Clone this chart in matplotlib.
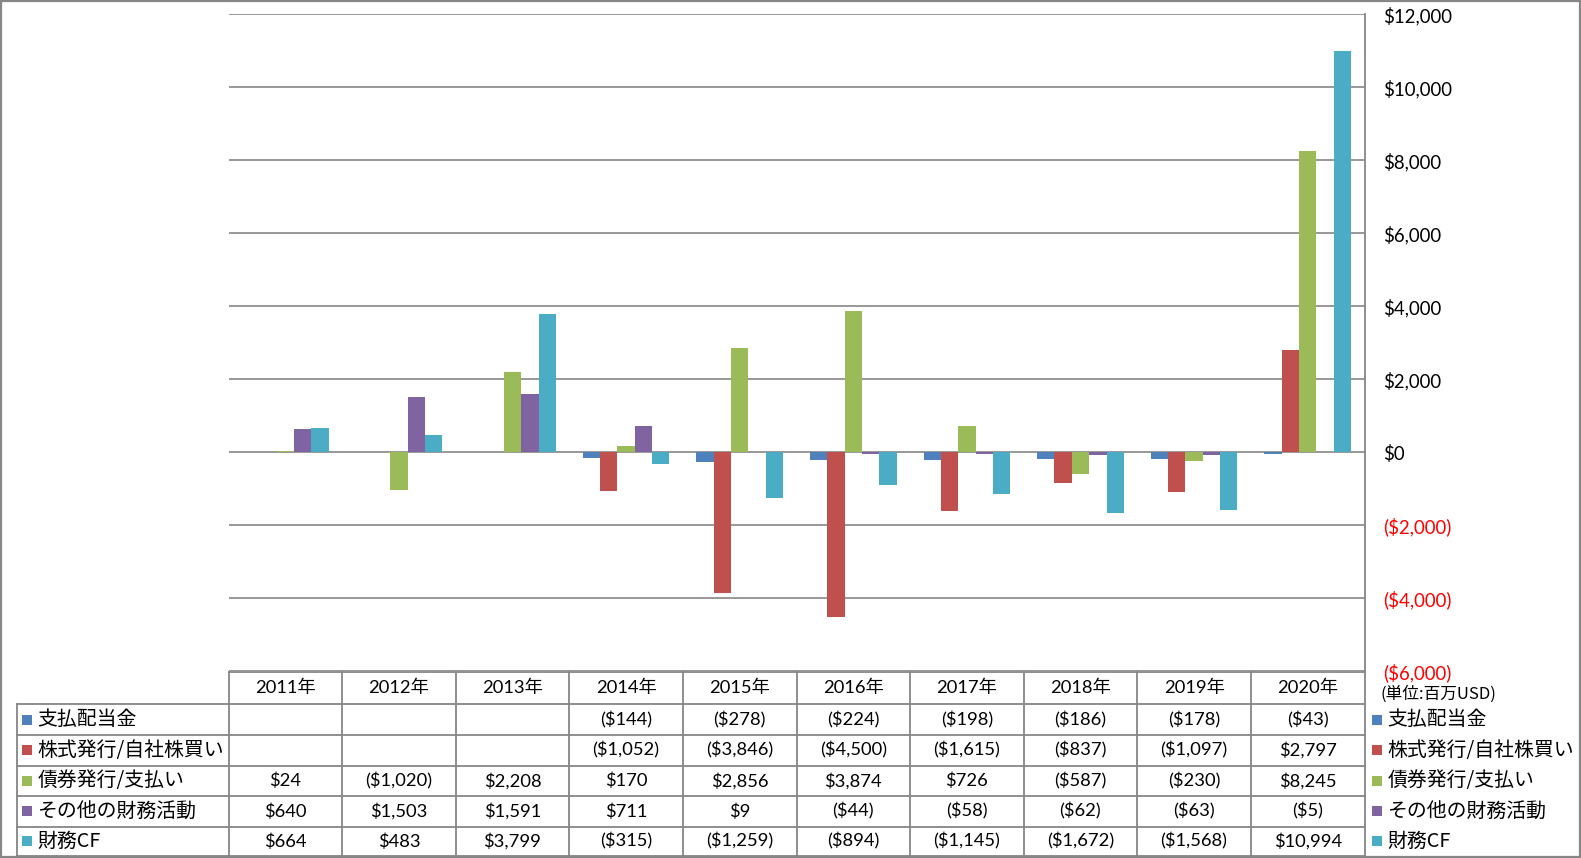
import numpy as np
import matplotlib
matplotlib.use("Agg")
import matplotlib.pyplot as plt
from matplotlib.lines import Line2D
from matplotlib.patches import Rectangle

years = ["2011年", "2012年", "2013年", "2014年", "2015年", "2016年", "2017年", "2018年", "2019年", "2020年"]
series_names = ["支払配当金", "株式発行/自社株買い", "債券発行/支払い", "その他の財務活動", "財務CF"]
dividends = [np.nan, np.nan, np.nan, -144, -278, -224, -198, -186, -178, -43]
stock = [np.nan, np.nan, np.nan, -1052, -3846, -4500, -1615, -837, -1097, 2797]
bonds = [24, -1020, 2208, 170, 2856, 3874, 726, -587, -230, 8245]
other = [640, 1503, 1591, 711, 9, -44, -58, -62, -63, -5]
fincf = [664, 483, 3799, -315, -1259, -894, -1145, -1672, -1568, 10994]
colors = ["#4F81BD", "#C0504D", "#9BBB59", "#8064A2", "#4BACC6"]
y_ticks = [-6000, -4000, -2000, 0, 2000, 4000, 6000, 8000, 10000, 12000]
unit_label = "(単位:百万USD)"

data = [dividends, stock, bonds, other, fincf]

W, H = 1581, 858
fig = plt.figure(figsize=(W / 100, H / 100), dpi=100)

NUM_FONT = ["Lato", "Noto Sans CJK JP", "DejaVu Sans"]
JP_FONT = ["Noto Sans CJK JP", "DejaVu Sans"]
GRID = "#868686"

def fmt(v):
    if v is None or (isinstance(v, float) and np.isnan(v)):
        return ""
    if v < 0:
        return "(${:,})".format(int(abs(v)))
    return "${:,}".format(int(v))

# plot area in pixels
x0, x1 = 228.5, 1364.5
ytop, ybot = 14.3, 671.3
ax = fig.add_axes([x0 / W, 1 - ybot / H, (x1 - x0) / W, (ybot - ytop) / H])
n = len(years)
nser = len(data)
bw = 1 / (nser + 1.55)
xs = np.arange(n)
for i, (vals, c) in enumerate(zip(data, colors)):
    ax.bar(xs + (i - (nser - 1) / 2) * bw, vals, width=bw, color=c, zorder=3, linewidth=0)
ax.set_xlim(-0.5, n - 0.5)
ax.set_ylim(-6000, 12000)
ax.set_yticks(y_ticks)
ax.yaxis.grid(True, color=GRID, linewidth=1.2, zorder=1)
ax.set_xticks([])
ax.yaxis.tick_right()
ax.tick_params(axis="y", length=0, pad=13.5)
ax.set_yticklabels([fmt(v) for v in y_ticks], fontfamily=NUM_FONT, fontsize=13.4)
for lab, v in zip(ax.get_yticklabels(), y_ticks):
    lab.set_color("#FF0000" if v < 0 else "#000000")
    lab.set_horizontalalignment("left")
for s in ax.spines.values():
    s.set_visible(False)
ax.patch.set_alpha(0)

# overlay in pixel coordinates
ov = fig.add_axes([0, 0, 1, 1], zorder=-1)
ov.set_xlim(0, W)
ov.set_ylim(H, 0)
ov.axis("off")

def line(xa, ya, xb, yb, lw=1.3):
    ov.add_line(Line2D([xa, xb], [ya, yb], color=GRID, linewidth=lw))

# outer border
ov.add_patch(Rectangle((1, 1.2), W - 2.5, H - 2.2, fill=False, edgecolor=GRID, linewidth=1.6))

# table
row_tops = [672.3, 704.2, 735.2, 765.6, 796.0, 826.6, 856.0]
cw = (x1 - x0) / n
line(x0, row_tops[0], x1, row_tops[0])
for yy in row_tops[1:]:
    line(16.7, yy, x1, yy)
line(16.7, row_tops[1], 16.7, row_tops[-1])
for k in range(n):
    xx = x0 + k * cw
    line(xx, row_tops[0], xx, row_tops[-1])
line(x1, ytop, x1, row_tops[-1])

hy = (row_tops[0] + row_tops[1]) / 2
for k, yl in enumerate(years):
    ov.text(x0 + (k + 0.5) * cw, hy, yl, ha="center", va="center",
            fontfamily=NUM_FONT, fontsize=13.2)

for r, (name, vals, c) in enumerate(zip(series_names, data, colors)):
    cy = (row_tops[r + 1] + row_tops[r + 2]) / 2
    ov.add_patch(Rectangle((22, cy - 5), 10, 10, color=c, linewidth=0))
    ov.text(37.5, cy, name, ha="left", va="center", fontfamily=JP_FONT, fontsize=14.3)
    for k, v in enumerate(vals):
        ov.text(x0 + (k + 0.5) * cw, cy, fmt(v), ha="center", va="center",
                fontfamily=NUM_FONT, fontsize=13.2)
    # right legend
    ov.add_patch(Rectangle((1372, cy - 5), 10, 10, color=c, linewidth=0))
    ov.text(1387.5, cy, name, ha="left", va="center", fontfamily=JP_FONT, fontsize=14.3)

ov.text(1380, 694, unit_label, ha="left", va="center", fontfamily=JP_FONT, fontsize=12)

fig.savefig("out.png", dpi=100)
